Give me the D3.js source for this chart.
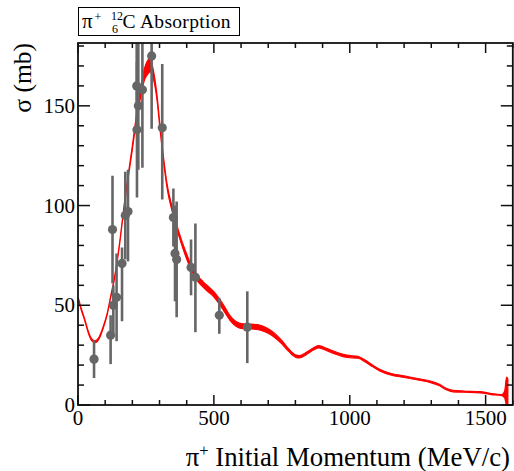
<!DOCTYPE html>
<html>
<head>
<meta charset="utf-8">
<script src="https://cdn.jsdelivr.net/npm/d3@7"></script>
<style>
  html, body { margin: 0; padding: 0; background: #fff; }
  svg { display: block; }
</style>
</head>
<body>
<svg id="chart" width="514" height="471"></svg>
<script>
// Theory curve: momentum (MeV/c) with lower / upper edge of the band (mb)
const curveMomentum = [2, 12, 25, 38, 50, 63, 77, 93, 108, 120, 136, 155, 170, 185, 200, 216, 232, 245, 255, 265, 275, 290, 302, 314, 330, 345, 360, 380, 400, 420, 440, 460, 480, 500, 520, 540, 560, 580, 600, 630, 660, 690, 720, 750, 775, 800, 815, 840, 865, 885, 905, 930, 960, 990, 1030, 1060, 1085, 1110, 1150, 1200, 1250, 1300, 1330, 1355, 1380, 1420, 1480, 1520, 1560, 1570, 1577, 1582];
const curveLow = [52.5, 47.5, 42.1, 36.0, 32.3, 31.2, 33.0, 38.5, 45.5, 53.4, 64.4, 82.3, 99.2, 114.1, 127.8, 143.5, 155.5, 163.0, 165.5, 167.0, 164.5, 153.5, 137.7, 122.8, 106.8, 97.8, 90.0, 80.9, 73.1, 66.7, 62.1, 59.1, 56.6, 54.1, 50.6, 46.4, 42.3, 39.6, 38.4, 38.2, 37.9, 36.6, 34.2, 30.6, 26.9, 24.0, 23.6, 25.2, 27.4, 28.6, 27.8, 26.4, 24.9, 23.8, 23.4, 21.3, 19.1, 17.1, 15.1, 13.8, 12.5, 11.1, 9.6, 7.6, 6.6, 6.4, 6.1, 5.2, 4.7, 3.5, 0, 0];
const curveHigh = [53.5, 48.5, 43.1, 37.0, 33.3, 32.2, 34.0, 39.5, 46.5, 54.6, 65.6, 83.7, 100.8, 115.9, 130.2, 146.5, 160.5, 169.0, 172.5, 174.0, 169.5, 156.5, 140.3, 125.2, 109.2, 100.2, 92.0, 83.1, 75.7, 69.3, 64.9, 61.9, 59.4, 56.9, 53.4, 49.2, 44.7, 42.0, 40.8, 40.6, 40.3, 39.0, 36.4, 32.4, 28.3, 25.2, 24.8, 26.4, 28.6, 29.8, 29.0, 27.6, 26.1, 25.0, 24.4, 22.3, 19.9, 17.9, 15.9, 14.6, 13.3, 11.9, 10.4, 8.4, 7.4, 7.0, 6.7, 5.8, 5.3, 7.0, 14.0, 13.0];

// Measured absorption cross sections with asymmetric errors
const dataMomentum = [59, 120, 127, 130, 142, 162, 174, 184, 217, 222, 216, 237, 271, 310, 351, 357, 363, 416, 432, 520, 623];
const dataSigma    = [23, 35, 88, 50, 54, 71, 95, 97, 138, 150, 160, 158, 175, 139, 94, 76, 73, 69, 64, 45, 39];
const dataErrUp    = [9.5, 10, 27, 10, 22, 8, 22, 21, 34, 32, 22, 40, 37, 32, 14.5, 24, 29, 14, 27, 8.7, 18];
const dataErrDown  = [9.5, 14.5, 27, 14, 22, 29, 22, 25, 34, 32, 22, 39, 36.5, 36, 14.5, 24, 29, 14, 27.5, 9.3, 18];

// Axis ticks
const xMajorTicks = [0, 500, 1000, 1500];
const xMinorTicks = d3.range(0, 1601, 100);
const yMajorTicks = [0, 50, 100, 150];
const yMinorTicks = d3.range(0, 181, 10);

const serif = "'Liberation Serif', 'Times New Roman', 'DejaVu Serif', serif";
const svg = d3.select("#chart").attr("font-family", serif);
const plot = { left: 78, right: 512.8, top: 43, bottom: 405 };

const x = d3.scaleLinear().domain([0, 1600]).range([plot.left, plot.right]);
const y = d3.scaleLinear().domain([0, 181.5]).range([plot.bottom, plot.top]);

svg.append("defs").append("clipPath").attr("id", "plotClip")
  .append("rect")
  .attr("x", plot.left).attr("y", plot.top)
  .attr("width", plot.right - plot.left).attr("height", plot.bottom - plot.top);

const inner = svg.append("g").attr("clip-path", "url(#plotClip)");

// theory band
const band = curveMomentum.map((p, i) => ({ p, lo: curveLow[i], hi: curveHigh[i] }));
const area = d3.area()
  .x(d => x(d.p))
  .y0(d => y(d.lo))
  .y1(d => y(d.hi))
  .curve(d3.curveMonotoneX);
inner.append("path")
  .datum(band)
  .attr("d", area)
  .attr("fill", "#ff0000")
  .attr("stroke", "#ff0000")
  .attr("stroke-width", 1.1)
  .attr("stroke-linejoin", "round");

// data points with error bars
const pts = dataMomentum.map((p, i) => ({ p, s: dataSigma[i], up: dataErrUp[i], dn: dataErrDown[i] }));
inner.selectAll("line.err").data(pts).enter().append("line")
  .attr("class", "err")
  .attr("x1", d => x(d.p)).attr("x2", d => x(d.p))
  .attr("y1", d => y(d.s + d.up)).attr("y2", d => y(d.s - d.dn))
  .attr("stroke", "#666666").attr("stroke-width", 2.6);
inner.selectAll("circle.pt").data(pts).enter().append("circle")
  .attr("class", "pt")
  .attr("cx", d => x(d.p)).attr("cy", d => y(d.s))
  .attr("r", 4.6)
  .attr("fill", "#666666");

// frame
const axisColor = "#111";
svg.append("rect")
  .attr("x", plot.left).attr("y", plot.top)
  .attr("width", plot.right - plot.left).attr("height", plot.bottom - plot.top)
  .attr("fill", "none").attr("stroke", axisColor).attr("stroke-width", 1.8);

// ticks pointing inward on all four sides
const tg = svg.append("g").attr("stroke", axisColor).attr("stroke-width", 1.5);
xMinorTicks.forEach(v => {
  const len = xMajorTicks.includes(v) ? 10 : 5;
  tg.append("line").attr("x1", x(v)).attr("x2", x(v)).attr("y1", plot.bottom).attr("y2", plot.bottom - len);
  tg.append("line").attr("x1", x(v)).attr("x2", x(v)).attr("y1", plot.top).attr("y2", plot.top + len);
});
yMinorTicks.forEach(v => {
  const len = yMajorTicks.includes(v) ? 12 : 6;
  tg.append("line").attr("y1", y(v)).attr("y2", y(v)).attr("x1", plot.left).attr("x2", plot.left + len);
  tg.append("line").attr("y1", y(v)).attr("y2", y(v)).attr("x1", plot.right).attr("x2", plot.right - len);
});

// tick labels
svg.append("g").selectAll("text").data(xMajorTicks).enter().append("text")
  .attr("font-family", serif)
  .attr("x", d => x(d)).attr("y", 425)
  .attr("text-anchor", "middle")
  .attr("font-size", 21)
  .text(d => d);
svg.append("g").selectAll("text").data(yMajorTicks).enter().append("text")
  .attr("font-family", serif)
  .attr("x", 75).attr("y", d => y(d) + 7)
  .attr("text-anchor", "end")
  .attr("font-size", 21)
  .text(d => d);

// axis titles
const xt = svg.append("text")
  .attr("font-family", serif)
  .attr("x", 510).attr("y", 466)
  .attr("text-anchor", "end")
  .attr("font-size", 26.8);
xt.append("tspan").text("π");
xt.append("tspan").attr("font-size", 16.5).attr("dy", -10).text("+");
xt.append("tspan").attr("dy", 10).text(" Initial Momentum (MeV/c)");

svg.append("text")
  .attr("font-family", serif)
  .attr("transform", "translate(31,43) rotate(-90)")
  .attr("text-anchor", "end")
  .attr("font-size", 25.5)
  .text("σ (mb)");

// title box
svg.append("rect")
  .attr("x", 78.5).attr("y", 7.5).attr("width", 161).attr("height", 28)
  .attr("fill", "#fff").attr("stroke", "#000").attr("stroke-width", 1);
const tt = svg.append("g").attr("font-family", serif).attr("font-size", 19.5);
tt.append("text").attr("x", 82).attr("y", 28).attr("font-size", 21).text("π");
tt.append("text").attr("x", 94.5).attr("y", 21).attr("font-size", 12).text("+");
tt.append("text").attr("x", 111).attr("y", 20).attr("font-size", 12).text("12");
tt.append("text").attr("x", 112).attr("y", 33).attr("font-size", 12).text("6");
tt.append("text").attr("x", 122.5).attr("y", 28).attr("textLength", 108).attr("lengthAdjust", "spacing").text("C Absorption");
</script>
</body>
</html>
